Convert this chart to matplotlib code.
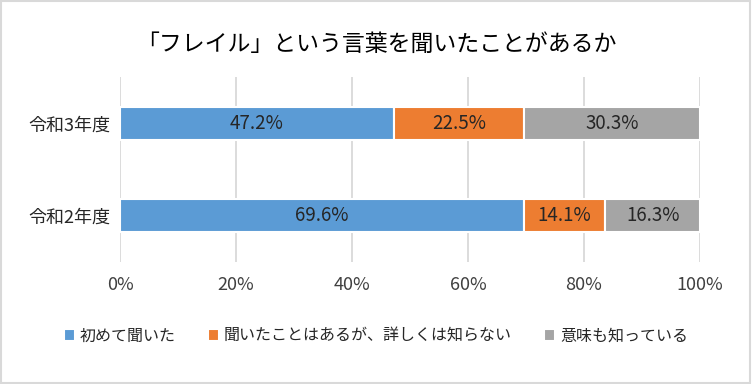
import matplotlib
matplotlib.use('Agg')
import matplotlib.pyplot as plt
import numpy as np

plt.rcParams['font.family'] = ['Noto Sans CJK JP', 'DejaVu Sans']

# ── Data ──────────────────────────────────────────────────────────────────────
categories = ['令和2年度', '令和3年度']
series_names = ['初めて聞いた', '聞いたことはあるが、詳しくは知らない', '意味も知っている']
first_time = [69.6, 47.2]
heard_only = [14.1, 22.5]
know_meaning = [16.3, 30.3]
colors = ['#5B9BD5', '#ED7D31', '#A5A5A5']
xticks = [0, 20, 40, 60, 80, 100]

# ── Plot ──────────────────────────────────────────────────────────────────────
fig = plt.figure(figsize=(7.52, 3.84), dpi=100)
ax = fig.add_axes([0.1596, 0.318, 0.7713, 0.4815])

y = np.arange(len(categories))
left = np.zeros(len(categories))
for name, vals, c in zip(series_names, [first_time, heard_only, know_meaning], colors):
    ax.barh(y, vals, left=left, height=0.36, color=c, edgecolor='white',
            linewidth=1.5, label=name, zorder=3)
    for yi, l, v in zip(y, left, vals):
        ax.text(l + v / 2, yi, f'{v:.1f}%', ha='center', va='center',
                fontsize=13.5, color='#262626', zorder=4)
    left += np.array(vals)

ax.set_xlim(0, 100)
ax.set_ylim(-0.5, 1.5)
ax.set_xticks(xticks)
ax.set_xticklabels([f'{t}%' for t in xticks], fontsize=13, color='#404040')
ax.set_yticks(y)
ax.set_yticklabels(categories, fontsize=13, color='#262626')
ax.tick_params(axis='x', length=0, pad=10)
ax.tick_params(axis='y', length=0, pad=7)
ax.grid(axis='x', color='#D9D9D9', linewidth=1.3, zorder=0)
for s in ax.spines.values():
    s.set_visible(False)

fig.text(0.5, 0.885, '「フレイル」という言葉を聞いたことがあるか', ha='center', va='center',
         fontsize=16.5, color='#000000')

fig.legend(loc='center', bbox_to_anchor=(0.5, 0.125), ncol=3, frameon=False,
           fontsize=11.5, handlelength=0.7, handleheight=0.7, columnspacing=2.0,
           handletextpad=0.3, labelcolor='#262626')

fig.patches.append(plt.Rectangle((0.001, 0.002), 0.997, 0.995, transform=fig.transFigure,
                                 fill=False, edgecolor='#D9D9D9', linewidth=1.5))

plt.savefig('out.png', dpi=100)
